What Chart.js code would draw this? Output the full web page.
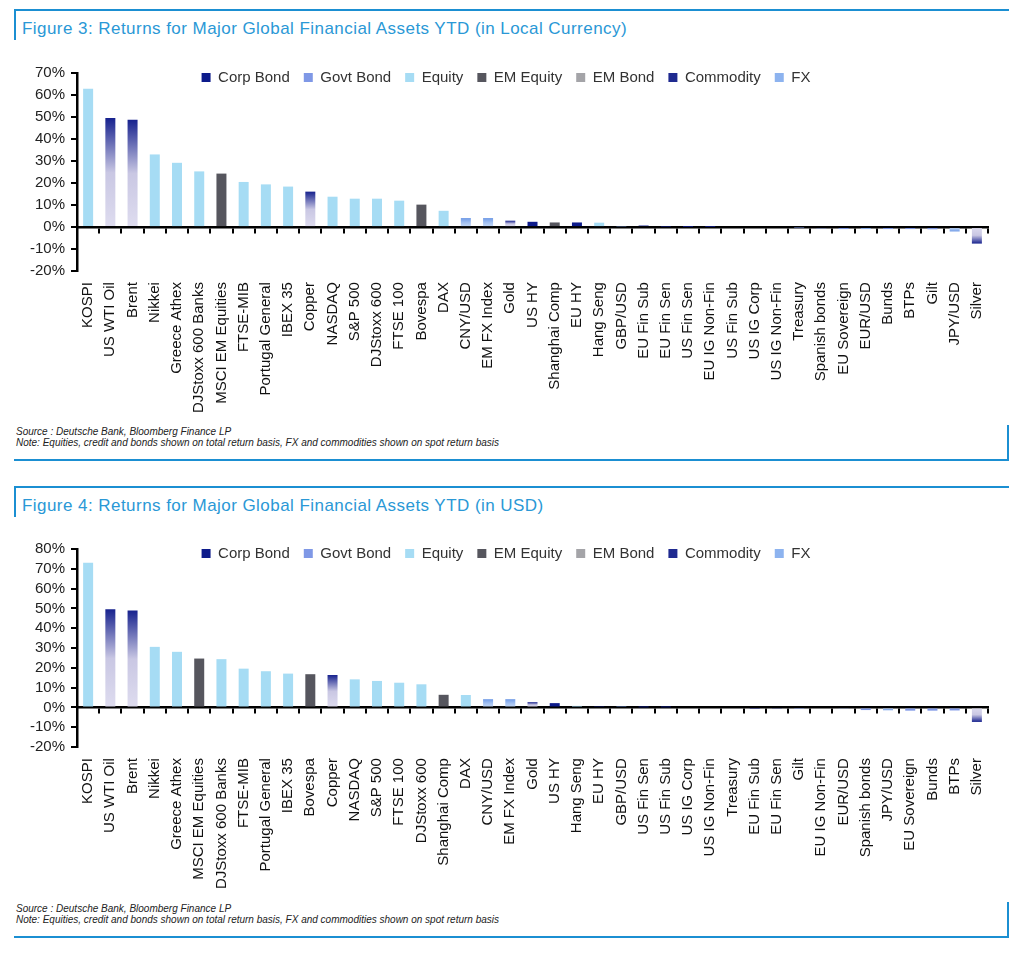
<!DOCTYPE html>
<html>
<head>
<meta charset="utf-8">
<script src="https://cdn.jsdelivr.net/npm/chart.js@4.4.1/dist/chart.umd.min.js"></script>
<style>
body { margin:0; width:1024px; height:953px; background:#fff; position:relative; overflow:hidden; font-family:'Liberation Sans', Arial, sans-serif; }
.ln { position:absolute; background:#1b8fd2; }
.title { position:absolute; left:22px; font-size:17px; letter-spacing:0.45px; color:#2a98d6; white-space:nowrap; }
.src { position:absolute; left:16px; font-size:10px; font-style:italic; color:#222; line-height:11px; white-space:nowrap; }
.box { position:absolute; left:0; width:1024px; }
</style>
</head>
<body>
<div class="ln" style="left:14px;top:9px;width:995px;height:2px"></div>
<div class="ln" style="left:14px;top:9px;width:2px;height:31px"></div>
<div class="title" style="top:19px">Figure 3: Returns for Major Global Financial Assets YTD (in Local Currency)</div>
<div class="box" style="top:55px;height:365px"><canvas id="c3"></canvas></div>
<div class="src" style="top:426px">Source : Deutsche Bank, Bloomberg Finance LP<br>Note: Equities, credit and bonds shown on total return basis, FX and commodities shown on spot return basis</div>
<div class="ln" style="left:14px;top:459px;width:995px;height:2px"></div>
<div class="ln" style="left:1007px;top:425px;width:2px;height:36px"></div>

<div class="ln" style="left:14px;top:486px;width:995px;height:2px"></div>
<div class="ln" style="left:14px;top:486px;width:2px;height:31px"></div>
<div class="title" style="top:496px">Figure 4: Returns for Major Global Financial Assets YTD (in USD)</div>
<div class="box" style="top:531px;height:365px"><canvas id="c4"></canvas></div>
<div class="src" style="top:903px">Source : Deutsche Bank, Bloomberg Finance LP<br>Note: Equities, credit and bonds shown on total return basis, FX and commodities shown on spot return basis</div>
<div class="ln" style="left:14px;top:936px;width:995px;height:2px"></div>
<div class="ln" style="left:1007px;top:902px;width:2px;height:36px"></div>

<script>
// asset classes (legend order) and the codes used in the type lists
var seriesNames = ['Corp Bond', 'Govt Bond', 'Equity', 'EM Equity', 'EM Bond', 'Commodity', 'FX'];
var seriesCodes = ['corp', 'govt', 'eq', 'emeq', 'embond', 'comm', 'fx'];

// Figure 3 - local currency
var labels3 = ['KOSPI', 'US WTI Oil', 'Brent', 'Nikkei', 'Greece Athex', 'DJStoxx 600 Banks', 'MSCI EM Equities',
  'FTSE-MIB', 'Portugal General', 'IBEX 35', 'Copper', 'NASDAQ', 'S&P 500', 'DJStoxx 600', 'FTSE 100', 'Bovespa',
  'DAX', 'CNY/USD', 'EM FX Index', 'Gold', 'US HY', 'Shanghai Comp', 'EU HY', 'Hang Seng', 'GBP/USD', 'EU Fin Sub',
  'EU Fin Sen', 'US Fin Sen', 'EU IG Non-Fin', 'US Fin Sub', 'US IG Corp', 'US IG Non-Fin', 'Treasury',
  'Spanish bonds', 'EU Sovereign', 'EUR/USD', 'Bunds', 'BTPs', 'Gilt', 'JPY/USD', 'Silver'];
var values3 = [62.9, 49.5, 48.8, 33.0, 29.2, 25.3, 24.3, 20.5, 19.4, 18.4, 16.1, 13.8, 12.9, 12.9, 12.0, 10.2,
  7.4, 4.1, 4.1, 2.9, 2.4, 2.1, 2.1, 2.0, 0.3, 0.7, 0.2, 0.1, 0.1, 0.0, 0.0, 0.0, -0.2,
  -0.6, -0.9, -0.9, -0.9, -0.9, -1.0, -2.0, -7.5];
var types3 = ['eq', 'comm', 'comm', 'eq', 'eq', 'eq', 'emeq', 'eq', 'eq', 'eq', 'comm', 'eq', 'eq', 'eq', 'eq', 'emeq',
  'eq', 'fx', 'fx', 'comm', 'corp', 'emeq', 'corp', 'eq', 'fx', 'corp', 'corp', 'corp', 'corp', 'corp', 'corp', 'corp', 'govt',
  'govt', 'govt', 'fx', 'govt', 'govt', 'govt', 'fx', 'comm'];
var ticks3 = [-20, -10, 0, 10, 20, 30, 40, 50, 60, 70];

// Figure 4 - USD
var labels4 = ['KOSPI', 'US WTI Oil', 'Brent', 'Nikkei', 'Greece Athex', 'MSCI EM Equities', 'DJStoxx 600 Banks',
  'FTSE-MIB', 'Portugal General', 'IBEX 35', 'Bovespa', 'Copper', 'NASDAQ', 'S&P 500', 'FTSE 100', 'DJStoxx 600',
  'Shanghai Comp', 'DAX', 'CNY/USD', 'EM FX Index', 'Gold', 'US HY', 'Hang Seng', 'EU HY', 'GBP/USD', 'US Fin Sen',
  'US Fin Sub', 'US IG Corp', 'US IG Non-Fin', 'Treasury', 'EU Fin Sub', 'EU Fin Sen', 'Gilt', 'EU IG Non-Fin',
  'EUR/USD', 'Spanish bonds', 'JPY/USD', 'EU Sovereign', 'Bunds', 'BTPs', 'Silver'];
var values4 = [73.1, 49.6, 48.9, 30.6, 28.1, 24.7, 24.4, 19.6, 18.3, 17.1, 16.8, 16.4, 14.2, 13.4, 12.5, 11.7,
  6.4, 6.3, 4.2, 4.2, 2.7, 2.2, 0.8, 0.7, 0.3, 0.1, 0.1, 0.0, 0.0, 0.0, -0.3, -0.4, -0.3, -0.5,
  -0.6, -1.3, -1.4, -1.6, -1.6, -1.5, -7.3];
var types4 = ['eq', 'comm', 'comm', 'eq', 'eq', 'emeq', 'eq', 'eq', 'eq', 'eq', 'emeq', 'comm', 'eq', 'eq', 'eq', 'eq',
  'emeq', 'eq', 'fx', 'fx', 'comm', 'corp', 'eq', 'corp', 'fx', 'corp', 'corp', 'corp', 'corp', 'govt', 'corp', 'corp', 'govt', 'corp',
  'fx', 'govt', 'fx', 'govt', 'govt', 'govt', 'comm'];
var ticks4 = [-20, -10, 0, 10, 20, 30, 40, 50, 60, 70, 80];

// bar fill that fades from the zero line towards the end of the bar
function fade(swatch, end, mid, base) {
  return function (c) {
    if (c.type !== 'data' || c.raw == null) return swatch;
    var ch = c.chart, y = ch.scales.y;
    if (!ch.chartArea || !y) return end;
    var y0 = y.getPixelForValue(0), y1 = y.getPixelForValue(c.raw);
    if (!isFinite(y0) || !isFinite(y1) || Math.abs(y1 - y0) < 0.5) return end;
    var g = ch.ctx.createLinearGradient(0, y1, 0, y0);
    g.addColorStop(0, end);
    g.addColorStop(0.5, mid);
    g.addColorStop(1, base);
    return g;
  };
}

var fills = {
  corp: '#0d1b8b',
  govt: '#7f98e6',
  eq: '#a6dcf4',
  emeq: '#56565e',
  embond: '#a4a4a8',
  comm: fade('#1f2a90', '#17228e', '#c9c7e3', '#dedcef'),
  fx: fade('#8db3ef', '#6f9ae6', '#a2c0f1', '#c8dbf7')
};

// legend sits on top of the plot: take no layout height, then nudge it
var legendOverlay = {
  id: 'legendOverlay',
  afterInit: function (chart) {
    var lg = chart.legend, fit = lg.fit;
    lg.fit = function () { fit.call(this); this._fullH = this.height; this.height = 0; };
  },
  afterLayout: function (chart) {
    var lg = chart.legend;
    lg.top += -17;
    lg.height = lg._fullH;
    lg.bottom = lg.top + lg.height;
  }
};

Chart.defaults.font.family = "'Liberation Sans', Arial, sans-serif";
Chart.defaults.font.size = 15;
Chart.defaults.color = '#222';

function makeChart(id, labels, values, types, ticks) {
  var datasets = seriesNames.map(function (name, k) {
    return {
      label: name,
      data: values.map(function (v, i) { return types[i] === seriesCodes[k] ? v : null; }),
      backgroundColor: fills[seriesCodes[k]],
      barPercentage: 0.5,
      categoryPercentage: 0.9
    };
  });
  return new Chart(document.getElementById(id), {
    type: 'bar',
    data: { labels: labels, datasets: datasets },
    plugins: [legendOverlay],
    options: {
      responsive: true,
      maintainAspectRatio: false,
      animation: false,
      layout: { padding: { top: 18, left: 24, right: 36, bottom: 4 } },
      plugins: {
        tooltip: { enabled: false },
        legend: {
          position: 'top',
          labels: { boxWidth: 9, boxHeight: 9, padding: 14, color: '#333', font: { size: 15 } }
        }
      },
      scales: {
        x: {
          stacked: true,
          offset: true,
          position: { y: 0 },
          ticks: { display: false },
          grid: { offset: true, drawOnChartArea: false, drawTicks: true, tickLength: 5, color: '#000', lineWidth: 2 },
          border: { color: '#000', width: 2.5 }
        },
        x2: {
          type: 'category',
          position: 'bottom',
          offset: true,
          grid: { display: false },
          border: { display: false },
          ticks: { autoSkip: false, minRotation: 90, maxRotation: 90, padding: 3, color: '#111' }
        },
        y: {
          stacked: true,
          min: ticks[0],
          max: ticks[ticks.length - 1],
          afterBuildTicks: function (s) { s.ticks = ticks.map(function (v) { return { value: v }; }); },
          ticks: { autoSkip: false, padding: 6, color: '#222', callback: function (v) { return v + '%'; } },
          grid: { drawOnChartArea: false, drawTicks: true, tickLength: 6, color: '#000', lineWidth: 2 },
          border: { color: '#000', width: 2.5 }
        }
      }
    }
  });
}

makeChart('c3', labels3, values3, types3, ticks3);
makeChart('c4', labels4, values4, types4, ticks4);
</script>
</body>
</html>
